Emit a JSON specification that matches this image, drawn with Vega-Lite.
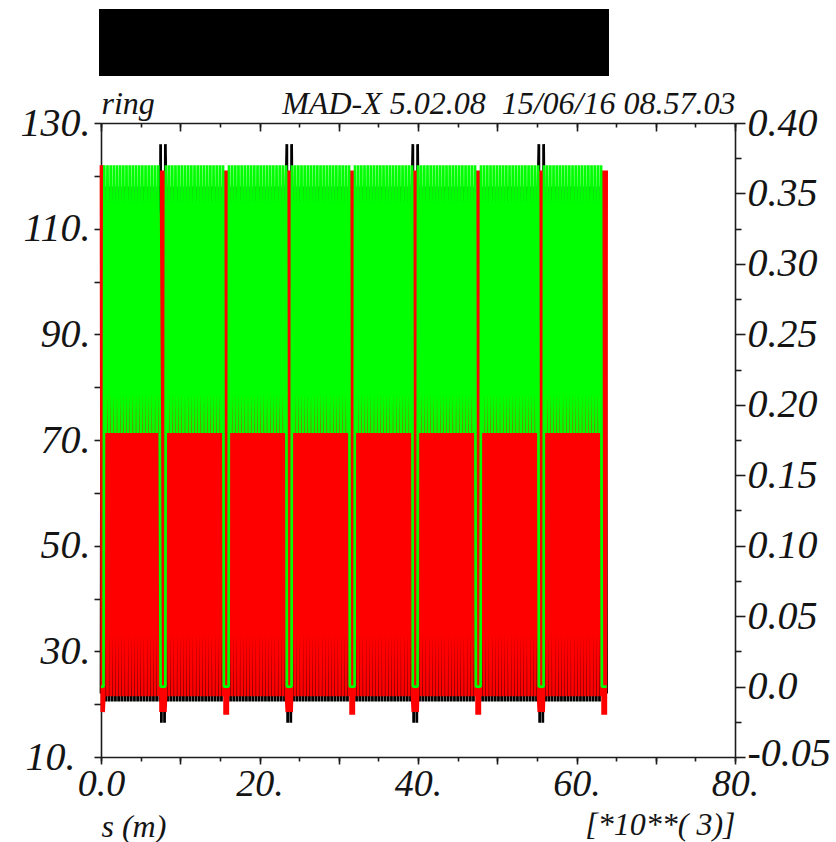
{
  "$schema": "https://vega.github.io/schema/vega-lite/v6.json",
  "width": 634,
  "height": 634,
  "autosize": {"type": "none"},
  "padding": {"left": 101, "top": 123, "right": 101, "bottom": 85},
  "background": "white",
  "config": {
    "view": {"stroke": null},
    "axis": {
      "grid": false, "zindex": 1,
      "domainColor": "#1c1c1c", "domainWidth": 1.6,
      "tickColor": "#1c1c1c", "tickWidth": 1.6,
      "labelFont": "Liberation Serif", "labelFontStyle": "italic", "labelFontWeight": "normal", "labelColor": "#141414",
      "labelOverlap": false, "labelFlush": false, "labelBound": false,
      "titleFont": "Liberation Serif", "titleFontStyle": "italic", "titleFontWeight": "normal", "titleColor": "#141414", "titleFontSize": 32
    }
  },
  "datasets": {
    "optics": [
      {"s":0,"betx":22,"bety":122,"dx":0},
      {"s":0.1,"betx":100,"bety":18.5,"dx":0},
      {"s":0.2,"betx":22,"bety":122,"dx":0},
      {"s":0.32,"betx":100,"bety":18.5,"dx":0},
      {"s":0.42,"betx":118,"bety":21.5,"dx":0.37},
      {"s":0.62,"betx":20.5,"bety":113,"dx":0.18},
      {"s":0.82,"betx":118,"bety":21.5,"dx":0.37},
      {"s":1.02,"betx":20.5,"bety":113,"dx":0.18},
      {"s":1.22,"betx":118,"bety":21.5,"dx":0.37},
      {"s":1.42,"betx":20.5,"bety":113,"dx":0.18},
      {"s":1.62,"betx":118,"bety":21.5,"dx":0.37},
      {"s":1.82,"betx":20.5,"bety":113,"dx":0.18},
      {"s":2.02,"betx":118,"bety":21.5,"dx":0.37},
      {"s":2.22,"betx":20.5,"bety":113,"dx":0.18},
      {"s":2.42,"betx":118,"bety":21.5,"dx":0.37},
      {"s":2.62,"betx":20.5,"bety":113,"dx":0.18},
      {"s":2.82,"betx":118,"bety":21.5,"dx":0.37},
      {"s":3.02,"betx":20.5,"bety":113,"dx":0.18},
      {"s":3.22,"betx":118,"bety":21.5,"dx":0.37},
      {"s":3.42,"betx":20.5,"bety":113,"dx":0.18},
      {"s":3.62,"betx":118,"bety":21.5,"dx":0.37},
      {"s":3.82,"betx":20.5,"bety":113,"dx":0.18},
      {"s":4.02,"betx":118,"bety":21.5,"dx":0.37},
      {"s":4.22,"betx":20.5,"bety":113,"dx":0.18},
      {"s":4.42,"betx":118,"bety":21.5,"dx":0.37},
      {"s":4.62,"betx":20.5,"bety":113,"dx":0.18},
      {"s":4.82,"betx":118,"bety":21.5,"dx":0.37},
      {"s":5.02,"betx":20.5,"bety":113,"dx":0.18},
      {"s":5.22,"betx":118,"bety":21.5,"dx":0.37},
      {"s":5.42,"betx":20.5,"bety":113,"dx":0.18},
      {"s":5.62,"betx":118,"bety":21.5,"dx":0.37},
      {"s":5.82,"betx":20.5,"bety":113,"dx":0.18},
      {"s":6.02,"betx":118,"bety":21.5,"dx":0.37},
      {"s":6.22,"betx":20.5,"bety":113,"dx":0.18},
      {"s":6.42,"betx":118,"bety":21.5,"dx":0.37},
      {"s":6.62,"betx":20.5,"bety":113,"dx":0.18},
      {"s":6.82,"betx":118,"bety":21.5,"dx":0.37},
      {"s":7.02,"betx":20.5,"bety":113,"dx":0.18},
      {"s":7.22,"betx":118,"bety":21.5,"dx":0.37},
      {"s":7.42,"betx":20.5,"bety":113,"dx":0.18},
      {"s":7.52,"betx":126,"bety":18.5,"dx":0},
      {"s":7.62,"betx":16.5,"bety":121,"dx":0},
      {"s":7.72,"betx":100,"bety":18.5,"dx":0},
      {"s":7.82,"betx":30,"bety":121,"dx":0},
      {"s":7.92,"betx":100,"bety":18.5,"dx":0},
      {"s":8.02,"betx":16.5,"bety":121,"dx":0},
      {"s":8.12,"betx":126,"bety":18.5,"dx":0},
      {"s":8.2,"betx":118,"bety":21.5,"dx":0.37},
      {"s":8.4,"betx":20.5,"bety":113,"dx":0.18},
      {"s":8.6,"betx":118,"bety":21.5,"dx":0.37},
      {"s":8.8,"betx":20.5,"bety":113,"dx":0.18},
      {"s":9.0,"betx":118,"bety":21.5,"dx":0.37},
      {"s":9.2,"betx":20.5,"bety":113,"dx":0.18},
      {"s":9.4,"betx":118,"bety":21.5,"dx":0.37},
      {"s":9.6,"betx":20.5,"bety":113,"dx":0.18},
      {"s":9.8,"betx":118,"bety":21.5,"dx":0.37},
      {"s":10.0,"betx":20.5,"bety":113,"dx":0.18},
      {"s":10.2,"betx":118,"bety":21.5,"dx":0.37},
      {"s":10.4,"betx":20.5,"bety":113,"dx":0.18},
      {"s":10.6,"betx":118,"bety":21.5,"dx":0.37},
      {"s":10.8,"betx":20.5,"bety":113,"dx":0.18},
      {"s":11.0,"betx":118,"bety":21.5,"dx":0.37},
      {"s":11.2,"betx":20.5,"bety":113,"dx":0.18},
      {"s":11.4,"betx":118,"bety":21.5,"dx":0.37},
      {"s":11.6,"betx":20.5,"bety":113,"dx":0.18},
      {"s":11.8,"betx":118,"bety":21.5,"dx":0.37},
      {"s":12.0,"betx":20.5,"bety":113,"dx":0.18},
      {"s":12.2,"betx":118,"bety":21.5,"dx":0.37},
      {"s":12.4,"betx":20.5,"bety":113,"dx":0.18},
      {"s":12.6,"betx":118,"bety":21.5,"dx":0.37},
      {"s":12.8,"betx":20.5,"bety":113,"dx":0.18},
      {"s":13.0,"betx":118,"bety":21.5,"dx":0.37},
      {"s":13.2,"betx":20.5,"bety":113,"dx":0.18},
      {"s":13.4,"betx":118,"bety":21.5,"dx":0.37},
      {"s":13.6,"betx":20.5,"bety":113,"dx":0.18},
      {"s":13.8,"betx":118,"bety":21.5,"dx":0.37},
      {"s":14.0,"betx":20.5,"bety":113,"dx":0.18},
      {"s":14.2,"betx":118,"bety":21.5,"dx":0.37},
      {"s":14.4,"betx":20.5,"bety":113,"dx":0.18},
      {"s":14.6,"betx":118,"bety":21.5,"dx":0.37},
      {"s":14.8,"betx":20.5,"bety":113,"dx":0.18},
      {"s":15.0,"betx":118,"bety":21.5,"dx":0.37},
      {"s":15.2,"betx":20.5,"bety":113,"dx":0.18},
      {"s":15.4,"betx":118,"bety":21.5,"dx":0.37},
      {"s":15.5,"betx":22,"bety":121,"dx":0},
      {"s":15.6,"betx":100,"bety":18,"dx":0},
      {"s":15.7,"betx":22,"bety":121,"dx":0},
      {"s":15.8,"betx":100,"bety":18,"dx":0},
      {"s":15.9,"betx":22,"bety":121,"dx":0},
      {"s":16.0,"betx":100,"bety":18,"dx":0},
      {"s":16.1,"betx":22,"bety":121,"dx":0},
      {"s":16.15,"betx":118,"bety":21.5,"dx":0.37},
      {"s":16.35,"betx":20.5,"bety":113,"dx":0.18},
      {"s":16.55,"betx":118,"bety":21.5,"dx":0.37},
      {"s":16.75,"betx":20.5,"bety":113,"dx":0.18},
      {"s":16.95,"betx":118,"bety":21.5,"dx":0.37},
      {"s":17.15,"betx":20.5,"bety":113,"dx":0.18},
      {"s":17.35,"betx":118,"bety":21.5,"dx":0.37},
      {"s":17.55,"betx":20.5,"bety":113,"dx":0.18},
      {"s":17.75,"betx":118,"bety":21.5,"dx":0.37},
      {"s":17.95,"betx":20.5,"bety":113,"dx":0.18},
      {"s":18.15,"betx":118,"bety":21.5,"dx":0.37},
      {"s":18.35,"betx":20.5,"bety":113,"dx":0.18},
      {"s":18.55,"betx":118,"bety":21.5,"dx":0.37},
      {"s":18.75,"betx":20.5,"bety":113,"dx":0.18},
      {"s":18.95,"betx":118,"bety":21.5,"dx":0.37},
      {"s":19.15,"betx":20.5,"bety":113,"dx":0.18},
      {"s":19.35,"betx":118,"bety":21.5,"dx":0.37},
      {"s":19.55,"betx":20.5,"bety":113,"dx":0.18},
      {"s":19.75,"betx":118,"bety":21.5,"dx":0.37},
      {"s":19.95,"betx":20.5,"bety":113,"dx":0.18},
      {"s":20.15,"betx":118,"bety":21.5,"dx":0.37},
      {"s":20.35,"betx":20.5,"bety":113,"dx":0.18},
      {"s":20.55,"betx":118,"bety":21.5,"dx":0.37},
      {"s":20.75,"betx":20.5,"bety":113,"dx":0.18},
      {"s":20.95,"betx":118,"bety":21.5,"dx":0.37},
      {"s":21.15,"betx":20.5,"bety":113,"dx":0.18},
      {"s":21.35,"betx":118,"bety":21.5,"dx":0.37},
      {"s":21.55,"betx":20.5,"bety":113,"dx":0.18},
      {"s":21.75,"betx":118,"bety":21.5,"dx":0.37},
      {"s":21.95,"betx":20.5,"bety":113,"dx":0.18},
      {"s":22.15,"betx":118,"bety":21.5,"dx":0.37},
      {"s":22.35,"betx":20.5,"bety":113,"dx":0.18},
      {"s":22.55,"betx":118,"bety":21.5,"dx":0.37},
      {"s":22.75,"betx":20.5,"bety":113,"dx":0.18},
      {"s":22.95,"betx":118,"bety":21.5,"dx":0.37},
      {"s":23.15,"betx":20.5,"bety":113,"dx":0.18},
      {"s":23.35,"betx":118,"bety":21.5,"dx":0.37},
      {"s":23.45,"betx":126,"bety":18.5,"dx":0},
      {"s":23.55,"betx":16.5,"bety":121,"dx":0},
      {"s":23.65,"betx":100,"bety":18.5,"dx":0},
      {"s":23.75,"betx":30,"bety":121,"dx":0},
      {"s":23.85,"betx":100,"bety":18.5,"dx":0},
      {"s":23.95,"betx":16.5,"bety":121,"dx":0},
      {"s":24.05,"betx":126,"bety":18.5,"dx":0},
      {"s":24.1,"betx":118,"bety":21.5,"dx":0.37},
      {"s":24.3,"betx":20.5,"bety":113,"dx":0.18},
      {"s":24.5,"betx":118,"bety":21.5,"dx":0.37},
      {"s":24.7,"betx":20.5,"bety":113,"dx":0.18},
      {"s":24.9,"betx":118,"bety":21.5,"dx":0.37},
      {"s":25.1,"betx":20.5,"bety":113,"dx":0.18},
      {"s":25.3,"betx":118,"bety":21.5,"dx":0.37},
      {"s":25.5,"betx":20.5,"bety":113,"dx":0.18},
      {"s":25.7,"betx":118,"bety":21.5,"dx":0.37},
      {"s":25.9,"betx":20.5,"bety":113,"dx":0.18},
      {"s":26.1,"betx":118,"bety":21.5,"dx":0.37},
      {"s":26.3,"betx":20.5,"bety":113,"dx":0.18},
      {"s":26.5,"betx":118,"bety":21.5,"dx":0.37},
      {"s":26.7,"betx":20.5,"bety":113,"dx":0.18},
      {"s":26.9,"betx":118,"bety":21.5,"dx":0.37},
      {"s":27.1,"betx":20.5,"bety":113,"dx":0.18},
      {"s":27.3,"betx":118,"bety":21.5,"dx":0.37},
      {"s":27.5,"betx":20.5,"bety":113,"dx":0.18},
      {"s":27.7,"betx":118,"bety":21.5,"dx":0.37},
      {"s":27.9,"betx":20.5,"bety":113,"dx":0.18},
      {"s":28.1,"betx":118,"bety":21.5,"dx":0.37},
      {"s":28.3,"betx":20.5,"bety":113,"dx":0.18},
      {"s":28.5,"betx":118,"bety":21.5,"dx":0.37},
      {"s":28.7,"betx":20.5,"bety":113,"dx":0.18},
      {"s":28.9,"betx":118,"bety":21.5,"dx":0.37},
      {"s":29.1,"betx":20.5,"bety":113,"dx":0.18},
      {"s":29.3,"betx":118,"bety":21.5,"dx":0.37},
      {"s":29.5,"betx":20.5,"bety":113,"dx":0.18},
      {"s":29.7,"betx":118,"bety":21.5,"dx":0.37},
      {"s":29.9,"betx":20.5,"bety":113,"dx":0.18},
      {"s":30.1,"betx":118,"bety":21.5,"dx":0.37},
      {"s":30.3,"betx":20.5,"bety":113,"dx":0.18},
      {"s":30.5,"betx":118,"bety":21.5,"dx":0.37},
      {"s":30.7,"betx":20.5,"bety":113,"dx":0.18},
      {"s":30.9,"betx":118,"bety":21.5,"dx":0.37},
      {"s":31.1,"betx":20.5,"bety":113,"dx":0.18},
      {"s":31.3,"betx":118,"bety":21.5,"dx":0.37},
      {"s":31.4,"betx":22,"bety":121,"dx":0},
      {"s":31.5,"betx":100,"bety":18,"dx":0},
      {"s":31.6,"betx":22,"bety":121,"dx":0},
      {"s":31.7,"betx":100,"bety":18,"dx":0},
      {"s":31.8,"betx":22,"bety":121,"dx":0},
      {"s":31.9,"betx":100,"bety":18,"dx":0},
      {"s":32.0,"betx":22,"bety":121,"dx":0},
      {"s":32.05,"betx":118,"bety":21.5,"dx":0.37},
      {"s":32.25,"betx":20.5,"bety":113,"dx":0.18},
      {"s":32.45,"betx":118,"bety":21.5,"dx":0.37},
      {"s":32.65,"betx":20.5,"bety":113,"dx":0.18},
      {"s":32.85,"betx":118,"bety":21.5,"dx":0.37},
      {"s":33.05,"betx":20.5,"bety":113,"dx":0.18},
      {"s":33.25,"betx":118,"bety":21.5,"dx":0.37},
      {"s":33.45,"betx":20.5,"bety":113,"dx":0.18},
      {"s":33.65,"betx":118,"bety":21.5,"dx":0.37},
      {"s":33.85,"betx":20.5,"bety":113,"dx":0.18},
      {"s":34.05,"betx":118,"bety":21.5,"dx":0.37},
      {"s":34.25,"betx":20.5,"bety":113,"dx":0.18},
      {"s":34.45,"betx":118,"bety":21.5,"dx":0.37},
      {"s":34.65,"betx":20.5,"bety":113,"dx":0.18},
      {"s":34.85,"betx":118,"bety":21.5,"dx":0.37},
      {"s":35.05,"betx":20.5,"bety":113,"dx":0.18},
      {"s":35.25,"betx":118,"bety":21.5,"dx":0.37},
      {"s":35.45,"betx":20.5,"bety":113,"dx":0.18},
      {"s":35.65,"betx":118,"bety":21.5,"dx":0.37},
      {"s":35.85,"betx":20.5,"bety":113,"dx":0.18},
      {"s":36.05,"betx":118,"bety":21.5,"dx":0.37},
      {"s":36.25,"betx":20.5,"bety":113,"dx":0.18},
      {"s":36.45,"betx":118,"bety":21.5,"dx":0.37},
      {"s":36.65,"betx":20.5,"bety":113,"dx":0.18},
      {"s":36.85,"betx":118,"bety":21.5,"dx":0.37},
      {"s":37.05,"betx":20.5,"bety":113,"dx":0.18},
      {"s":37.25,"betx":118,"bety":21.5,"dx":0.37},
      {"s":37.45,"betx":20.5,"bety":113,"dx":0.18},
      {"s":37.65,"betx":118,"bety":21.5,"dx":0.37},
      {"s":37.85,"betx":20.5,"bety":113,"dx":0.18},
      {"s":38.05,"betx":118,"bety":21.5,"dx":0.37},
      {"s":38.25,"betx":20.5,"bety":113,"dx":0.18},
      {"s":38.45,"betx":118,"bety":21.5,"dx":0.37},
      {"s":38.65,"betx":20.5,"bety":113,"dx":0.18},
      {"s":38.85,"betx":118,"bety":21.5,"dx":0.37},
      {"s":39.05,"betx":20.5,"bety":113,"dx":0.18},
      {"s":39.25,"betx":118,"bety":21.5,"dx":0.37},
      {"s":39.35,"betx":126,"bety":18.5,"dx":0},
      {"s":39.45,"betx":16.5,"bety":121,"dx":0},
      {"s":39.55,"betx":100,"bety":18.5,"dx":0},
      {"s":39.65,"betx":30,"bety":121,"dx":0},
      {"s":39.75,"betx":100,"bety":18.5,"dx":0},
      {"s":39.85,"betx":16.5,"bety":121,"dx":0},
      {"s":39.95,"betx":126,"bety":18.5,"dx":0},
      {"s":40.0,"betx":118,"bety":21.5,"dx":0.37},
      {"s":40.2,"betx":20.5,"bety":113,"dx":0.18},
      {"s":40.4,"betx":118,"bety":21.5,"dx":0.37},
      {"s":40.6,"betx":20.5,"bety":113,"dx":0.18},
      {"s":40.8,"betx":118,"bety":21.5,"dx":0.37},
      {"s":41.0,"betx":20.5,"bety":113,"dx":0.18},
      {"s":41.2,"betx":118,"bety":21.5,"dx":0.37},
      {"s":41.4,"betx":20.5,"bety":113,"dx":0.18},
      {"s":41.6,"betx":118,"bety":21.5,"dx":0.37},
      {"s":41.8,"betx":20.5,"bety":113,"dx":0.18},
      {"s":42.0,"betx":118,"bety":21.5,"dx":0.37},
      {"s":42.2,"betx":20.5,"bety":113,"dx":0.18},
      {"s":42.4,"betx":118,"bety":21.5,"dx":0.37},
      {"s":42.6,"betx":20.5,"bety":113,"dx":0.18},
      {"s":42.8,"betx":118,"bety":21.5,"dx":0.37},
      {"s":43.0,"betx":20.5,"bety":113,"dx":0.18},
      {"s":43.2,"betx":118,"bety":21.5,"dx":0.37},
      {"s":43.4,"betx":20.5,"bety":113,"dx":0.18},
      {"s":43.6,"betx":118,"bety":21.5,"dx":0.37},
      {"s":43.8,"betx":20.5,"bety":113,"dx":0.18},
      {"s":44.0,"betx":118,"bety":21.5,"dx":0.37},
      {"s":44.2,"betx":20.5,"bety":113,"dx":0.18},
      {"s":44.4,"betx":118,"bety":21.5,"dx":0.37},
      {"s":44.6,"betx":20.5,"bety":113,"dx":0.18},
      {"s":44.8,"betx":118,"bety":21.5,"dx":0.37},
      {"s":45.0,"betx":20.5,"bety":113,"dx":0.18},
      {"s":45.2,"betx":118,"bety":21.5,"dx":0.37},
      {"s":45.4,"betx":20.5,"bety":113,"dx":0.18},
      {"s":45.6,"betx":118,"bety":21.5,"dx":0.37},
      {"s":45.8,"betx":20.5,"bety":113,"dx":0.18},
      {"s":46.0,"betx":118,"bety":21.5,"dx":0.37},
      {"s":46.2,"betx":20.5,"bety":113,"dx":0.18},
      {"s":46.4,"betx":118,"bety":21.5,"dx":0.37},
      {"s":46.6,"betx":20.5,"bety":113,"dx":0.18},
      {"s":46.8,"betx":118,"bety":21.5,"dx":0.37},
      {"s":47.0,"betx":20.5,"bety":113,"dx":0.18},
      {"s":47.2,"betx":118,"bety":21.5,"dx":0.37},
      {"s":47.3,"betx":22,"bety":121,"dx":0},
      {"s":47.4,"betx":100,"bety":18,"dx":0},
      {"s":47.5,"betx":22,"bety":121,"dx":0},
      {"s":47.6,"betx":100,"bety":18,"dx":0},
      {"s":47.7,"betx":22,"bety":121,"dx":0},
      {"s":47.8,"betx":100,"bety":18,"dx":0},
      {"s":47.9,"betx":22,"bety":121,"dx":0},
      {"s":47.95,"betx":118,"bety":21.5,"dx":0.37},
      {"s":48.15,"betx":20.5,"bety":113,"dx":0.18},
      {"s":48.35,"betx":118,"bety":21.5,"dx":0.37},
      {"s":48.55,"betx":20.5,"bety":113,"dx":0.18},
      {"s":48.75,"betx":118,"bety":21.5,"dx":0.37},
      {"s":48.95,"betx":20.5,"bety":113,"dx":0.18},
      {"s":49.15,"betx":118,"bety":21.5,"dx":0.37},
      {"s":49.35,"betx":20.5,"bety":113,"dx":0.18},
      {"s":49.55,"betx":118,"bety":21.5,"dx":0.37},
      {"s":49.75,"betx":20.5,"bety":113,"dx":0.18},
      {"s":49.95,"betx":118,"bety":21.5,"dx":0.37},
      {"s":50.15,"betx":20.5,"bety":113,"dx":0.18},
      {"s":50.35,"betx":118,"bety":21.5,"dx":0.37},
      {"s":50.55,"betx":20.5,"bety":113,"dx":0.18},
      {"s":50.75,"betx":118,"bety":21.5,"dx":0.37},
      {"s":50.95,"betx":20.5,"bety":113,"dx":0.18},
      {"s":51.15,"betx":118,"bety":21.5,"dx":0.37},
      {"s":51.35,"betx":20.5,"bety":113,"dx":0.18},
      {"s":51.55,"betx":118,"bety":21.5,"dx":0.37},
      {"s":51.75,"betx":20.5,"bety":113,"dx":0.18},
      {"s":51.95,"betx":118,"bety":21.5,"dx":0.37},
      {"s":52.15,"betx":20.5,"bety":113,"dx":0.18},
      {"s":52.35,"betx":118,"bety":21.5,"dx":0.37},
      {"s":52.55,"betx":20.5,"bety":113,"dx":0.18},
      {"s":52.75,"betx":118,"bety":21.5,"dx":0.37},
      {"s":52.95,"betx":20.5,"bety":113,"dx":0.18},
      {"s":53.15,"betx":118,"bety":21.5,"dx":0.37},
      {"s":53.35,"betx":20.5,"bety":113,"dx":0.18},
      {"s":53.55,"betx":118,"bety":21.5,"dx":0.37},
      {"s":53.75,"betx":20.5,"bety":113,"dx":0.18},
      {"s":53.95,"betx":118,"bety":21.5,"dx":0.37},
      {"s":54.15,"betx":20.5,"bety":113,"dx":0.18},
      {"s":54.35,"betx":118,"bety":21.5,"dx":0.37},
      {"s":54.55,"betx":20.5,"bety":113,"dx":0.18},
      {"s":54.75,"betx":118,"bety":21.5,"dx":0.37},
      {"s":54.95,"betx":20.5,"bety":113,"dx":0.18},
      {"s":55.15,"betx":118,"bety":21.5,"dx":0.37},
      {"s":55.25,"betx":126,"bety":18.5,"dx":0},
      {"s":55.35,"betx":16.5,"bety":121,"dx":0},
      {"s":55.45,"betx":100,"bety":18.5,"dx":0},
      {"s":55.55,"betx":30,"bety":121,"dx":0},
      {"s":55.65,"betx":100,"bety":18.5,"dx":0},
      {"s":55.75,"betx":16.5,"bety":121,"dx":0},
      {"s":55.85,"betx":126,"bety":18.5,"dx":0},
      {"s":55.9,"betx":118,"bety":21.5,"dx":0.37},
      {"s":56.1,"betx":20.5,"bety":113,"dx":0.18},
      {"s":56.3,"betx":118,"bety":21.5,"dx":0.37},
      {"s":56.5,"betx":20.5,"bety":113,"dx":0.18},
      {"s":56.7,"betx":118,"bety":21.5,"dx":0.37},
      {"s":56.9,"betx":20.5,"bety":113,"dx":0.18},
      {"s":57.1,"betx":118,"bety":21.5,"dx":0.37},
      {"s":57.3,"betx":20.5,"bety":113,"dx":0.18},
      {"s":57.5,"betx":118,"bety":21.5,"dx":0.37},
      {"s":57.7,"betx":20.5,"bety":113,"dx":0.18},
      {"s":57.9,"betx":118,"bety":21.5,"dx":0.37},
      {"s":58.1,"betx":20.5,"bety":113,"dx":0.18},
      {"s":58.3,"betx":118,"bety":21.5,"dx":0.37},
      {"s":58.5,"betx":20.5,"bety":113,"dx":0.18},
      {"s":58.7,"betx":118,"bety":21.5,"dx":0.37},
      {"s":58.9,"betx":20.5,"bety":113,"dx":0.18},
      {"s":59.1,"betx":118,"bety":21.5,"dx":0.37},
      {"s":59.3,"betx":20.5,"bety":113,"dx":0.18},
      {"s":59.5,"betx":118,"bety":21.5,"dx":0.37},
      {"s":59.7,"betx":20.5,"bety":113,"dx":0.18},
      {"s":59.9,"betx":118,"bety":21.5,"dx":0.37},
      {"s":60.1,"betx":20.5,"bety":113,"dx":0.18},
      {"s":60.3,"betx":118,"bety":21.5,"dx":0.37},
      {"s":60.5,"betx":20.5,"bety":113,"dx":0.18},
      {"s":60.7,"betx":118,"bety":21.5,"dx":0.37},
      {"s":60.9,"betx":20.5,"bety":113,"dx":0.18},
      {"s":61.1,"betx":118,"bety":21.5,"dx":0.37},
      {"s":61.3,"betx":20.5,"bety":113,"dx":0.18},
      {"s":61.5,"betx":118,"bety":21.5,"dx":0.37},
      {"s":61.7,"betx":20.5,"bety":113,"dx":0.18},
      {"s":61.9,"betx":118,"bety":21.5,"dx":0.37},
      {"s":62.1,"betx":20.5,"bety":113,"dx":0.18},
      {"s":62.3,"betx":118,"bety":21.5,"dx":0.37},
      {"s":62.5,"betx":20.5,"bety":113,"dx":0.18},
      {"s":62.7,"betx":118,"bety":21.5,"dx":0.37},
      {"s":62.9,"betx":20.5,"bety":113,"dx":0.18},
      {"s":63.1,"betx":118,"bety":21.5,"dx":0.37},
      {"s":63.2,"betx":22,"bety":121,"dx":0},
      {"s":63.3,"betx":100,"bety":18,"dx":0},
      {"s":63.4,"betx":22,"bety":121,"dx":0},
      {"s":63.5,"betx":100,"bety":18,"dx":0},
      {"s":63.6,"betx":22,"bety":121,"dx":0},
      {"s":63.7,"betx":100,"bety":18,"dx":0},
      {"s":63.8,"betx":22,"bety":121,"dx":0}
    ]
  },
  "data": {"name": "optics"},
  "layer": [
    {
      "data": {"values": [{"item": "legend"}]},
      "mark": {"type": "rect", "color": "#000000"},
      "encoding": {
        "x": {
          "datum": -0.25, "type": "quantitative",
          "scale": {"domain": [0, 80], "nice": false, "zero": false},
          "axis": {
            "orient": "top", "domain": false, "labels": false,
            "values": [0, 5, 10, 15, 20, 25, 30, 35, 40, 45, 50, 55, 60, 65, 70, 75, 80],
            "tickSize": -4,
            "title": "ring", "titleAnchor": "start", "titleAlign": "left", "titleBaseline": "alphabetic", "titlePadding": 9
          }
        },
        "x2": {"datum": 64.1},
        "y": {"datum": 138.9, "type": "quantitative", "scale": {"domain": [10, 130], "nice": false, "zero": false}, "axis": null},
        "y2": {"datum": 151.6}
      }
    },
    {
      "mark": {"type": "line", "color": "#000000", "strokeWidth": 2.75, "strokeJoin": "bevel"},
      "encoding": {
        "x": {
          "field": "s", "type": "quantitative",
          "scale": {"domain": [0, 80], "nice": false, "zero": false},
          "axis": {
            "orient": "bottom",
            "values": [0, 10, 20, 30, 40, 50, 60, 70, 80],
            "labelExpr": "datum.value % 20 === 0 ? (datum.value === 0 ? '0.0' : datum.value + '.') : ''",
            "labelFontSize": 38, "labelPadding": 1,
            "tickSize": 7,
            "title": "s (m)", "titleAnchor": "start", "titleAlign": "left", "titleBaseline": "alphabetic", "titlePadding": 33
          }
        },
        "y": {
          "field": "betx", "type": "quantitative",
          "scale": {"domain": [10, 130], "nice": false, "zero": false},
          "axis": {
            "orient": "left",
            "values": [10, 20, 30, 40, 50, 60, 70, 80, 90, 100, 110, 120, 130],
            "labelExpr": "(datum.value - 10) % 20 === 0 ? datum.value + '.' : ''",
            "labelFontSize": 40,
            "labelPadding": {"condition": {"test": "datum.value === 10", "value": 19}, "value": 4},
            "tickSize": 7, "title": null
          }
        }
      }
    },
    {
      "mark": {"type": "line", "color": "#ff0000", "strokeWidth": 2.75, "strokeJoin": "bevel"},
      "encoding": {
        "x": {
          "field": "s", "type": "quantitative",
          "axis": {
            "orient": "top",
            "values": [0, 10, 20, 30, 40, 50, 60, 70, 80],
            "labels": false,
            "tickSize": -8,
            "title": "MAD-X 5.02.08\u00a0 15/06/16 08.57.03", "titleAnchor": "end", "titleAlign": "right", "titleBaseline": "alphabetic", "titlePadding": 9
          }
        },
        "y": {
          "field": "bety", "type": "quantitative",
          "scale": {"domain": [10, 130], "nice": false, "zero": false},
          "axis": null
        }
      }
    },
    {
      "mark": {"type": "line", "color": "#00ff00", "strokeWidth": 2.7, "strokeJoin": "bevel"},
      "encoding": {
        "x": {
          "field": "s", "type": "quantitative",
          "axis": {
            "orient": "bottom", "domain": false, "labels": false,
            "values": [0, 5, 10, 15, 20, 25, 30, 35, 40, 45, 50, 55, 60, 65, 70, 75, 80],
            "tickSize": 4,
            "title": "[*10**( 3)]", "titleAnchor": "end", "titleAlign": "right", "titleBaseline": "alphabetic", "titlePadding": 73
          }
        },
        "y": {
          "field": "dx", "type": "quantitative",
          "scale": {"domain": [-0.05, 0.4], "nice": false, "zero": false},
          "axis": {
            "orient": "right",
            "values": [-0.05, -0.025, 0, 0.025, 0.05, 0.075, 0.1, 0.125, 0.15, 0.175, 0.2, 0.225, 0.25, 0.275, 0.3, 0.325, 0.35, 0.375, 0.4],
            "labelExpr": "round(datum.value * 1000) % 50 === 0 ? (abs(datum.value) < 1e-9 ? '0.0' : (datum.value < 0 ? '-' : '') + format(abs(datum.value), '.2f')) : ''",
            "labelFontSize": 40, "labelPadding": 2,
            "labelOffset": {"condition": {"test": "datum.value < -0.04", "value": -4}, "value": 0},
            "tickSize": {"condition": {"test": "round(datum.value * 1000) % 50 === 0", "value": 10}, "value": 6},
            "title": null
          }
        }
      }
    }
  ],
  "resolve": {"scale": {"y": "independent"}, "axis": {"x": "independent", "y": "independent"}}
}
